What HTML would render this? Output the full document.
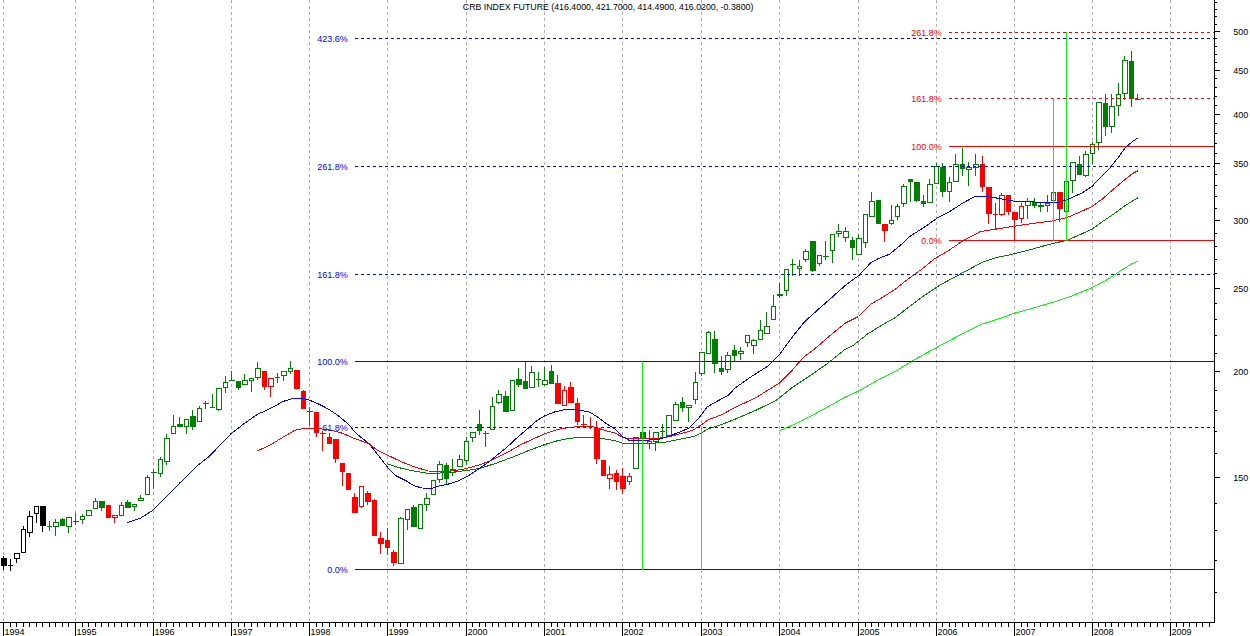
<!DOCTYPE html>
<html><head><meta charset="utf-8"><title>CRB INDEX FUTURE</title>
<style>html,body{margin:0;padding:0;background:#fff}svg{display:block}text{font-family:"Liberation Sans",Arial,sans-serif;font-size:9px}</style></head><body>
<svg width="1250" height="636" viewBox="0 0 1250 636">
<rect width="1250" height="636" fill="#fff"/>
<g shape-rendering="crispEdges" stroke="#b0b0b0" stroke-width="1" stroke-dasharray="3 3">
<line x1="3.5" y1="0" x2="3.5" y2="622"/>
<line x1="75.5" y1="0" x2="75.5" y2="622"/>
<line x1="153.5" y1="0" x2="153.5" y2="622"/>
<line x1="231.5" y1="0" x2="231.5" y2="622"/>
<line x1="309.5" y1="0" x2="309.5" y2="622"/>
<line x1="387.5" y1="0" x2="387.5" y2="622"/>
<line x1="466.5" y1="0" x2="466.5" y2="622"/>
<line x1="544.5" y1="0" x2="544.5" y2="622"/>
<line x1="622.5" y1="0" x2="622.5" y2="622"/>
<line x1="701.5" y1="0" x2="701.5" y2="622"/>
<line x1="779.5" y1="0" x2="779.5" y2="622"/>
<line x1="858.5" y1="0" x2="858.5" y2="622"/>
<line x1="936.5" y1="0" x2="936.5" y2="622"/>
<line x1="1014.5" y1="0" x2="1014.5" y2="622"/>
<line x1="1092.5" y1="0" x2="1092.5" y2="622"/>
<line x1="1170.5" y1="0" x2="1170.5" y2="622"/>
</g>
<g shape-rendering="crispEdges">
<rect x="3" y="556" width="1" height="14" fill="#000000"/>
<rect x="1" y="558" width="6" height="8" fill="#000000"/>
<rect x="10" y="559" width="1" height="12" fill="#000000"/>
<rect x="8" y="565" width="5" height="1" fill="#000000"/>
<rect x="16" y="553" width="1" height="10" fill="#000000"/>
<rect x="14.5" y="553.5" width="5" height="5" fill="#fff" stroke="#000000" stroke-width="1"/>
<rect x="23" y="526" width="1" height="27" fill="#000000"/>
<rect x="21.5" y="529.5" width="4" height="23" fill="#fff" stroke="#000000" stroke-width="1"/>
<rect x="29" y="511" width="1" height="26" fill="#000000"/>
<rect x="27.5" y="516.5" width="5" height="16" fill="#fff" stroke="#000000" stroke-width="1"/>
<rect x="36" y="506" width="1" height="17" fill="#000000"/>
<rect x="34.5" y="506.5" width="4" height="7" fill="#fff" stroke="#000000" stroke-width="1"/>
<rect x="42" y="506" width="1" height="26" fill="#000000"/>
<rect x="40" y="506" width="6" height="20" fill="#000000"/>
<rect x="49" y="521" width="1" height="10" fill="#008000"/>
<rect x="47" y="526" width="5" height="1" fill="#008000"/>
<rect x="55" y="519" width="1" height="17" fill="#008000"/>
<rect x="53.5" y="522.5" width="5" height="4" fill="#fff" stroke="#008000" stroke-width="1"/>
<rect x="62" y="518" width="1" height="8" fill="#008000"/>
<rect x="60" y="519" width="5" height="7" fill="#008000"/>
<rect x="68" y="517" width="1" height="16" fill="#008000"/>
<rect x="66.5" y="517.5" width="5" height="9" fill="#fff" stroke="#008000" stroke-width="1"/>
<rect x="75" y="513" width="1" height="12" fill="#008000"/>
<rect x="73" y="521" width="6" height="1" fill="#008000"/>
<rect x="82" y="514" width="1" height="10" fill="#008000"/>
<rect x="80.5" y="516.5" width="4" height="3" fill="#fff" stroke="#008000" stroke-width="1"/>
<rect x="88" y="510" width="1" height="6" fill="#008000"/>
<rect x="86.5" y="510.5" width="5" height="5" fill="#fff" stroke="#008000" stroke-width="1"/>
<rect x="95" y="498" width="1" height="11" fill="#008000"/>
<rect x="93.5" y="501.5" width="4" height="7" fill="#fff" stroke="#008000" stroke-width="1"/>
<rect x="101" y="501" width="1" height="10" fill="#008000"/>
<rect x="99" y="501" width="6" height="7" fill="#008000"/>
<rect x="108" y="505" width="1" height="13" fill="#ff0000"/>
<rect x="106" y="505" width="5" height="13" fill="#ff0000"/>
<rect x="114" y="515" width="1" height="8" fill="#ff0000"/>
<rect x="112.5" y="515.5" width="5" height="2" fill="#fff" stroke="#ff0000" stroke-width="1"/>
<rect x="121" y="502" width="1" height="14" fill="#008000"/>
<rect x="119.5" y="505.5" width="4" height="10" fill="#fff" stroke="#008000" stroke-width="1"/>
<rect x="127" y="500" width="1" height="8" fill="#008000"/>
<rect x="125" y="502" width="6" height="6" fill="#008000"/>
<rect x="134" y="504" width="1" height="7" fill="#008000"/>
<rect x="132.5" y="504.5" width="4" height="2" fill="#fff" stroke="#008000" stroke-width="1"/>
<rect x="140" y="495" width="1" height="6" fill="#008000"/>
<rect x="138.5" y="498.5" width="5" height="2" fill="#fff" stroke="#008000" stroke-width="1"/>
<rect x="147" y="475" width="1" height="20" fill="#008000"/>
<rect x="145.5" y="477.5" width="4" height="17" fill="#fff" stroke="#008000" stroke-width="1"/>
<rect x="153" y="469" width="1" height="20" fill="#008000"/>
<rect x="151" y="472" width="6" height="1" fill="#008000"/>
<rect x="160" y="457" width="1" height="20" fill="#008000"/>
<rect x="158.5" y="459.5" width="4" height="14" fill="#fff" stroke="#008000" stroke-width="1"/>
<rect x="166" y="434" width="1" height="31" fill="#008000"/>
<rect x="164.5" y="438.5" width="5" height="23" fill="#fff" stroke="#008000" stroke-width="1"/>
<rect x="173" y="415" width="1" height="19" fill="#008000"/>
<rect x="171.5" y="426.5" width="4" height="7" fill="#fff" stroke="#008000" stroke-width="1"/>
<rect x="179" y="417" width="1" height="10" fill="#008000"/>
<rect x="177" y="424" width="6" height="3" fill="#008000"/>
<rect x="186" y="419" width="1" height="15" fill="#008000"/>
<rect x="184.5" y="419.5" width="4" height="7" fill="#fff" stroke="#008000" stroke-width="1"/>
<rect x="192" y="410" width="1" height="20" fill="#008000"/>
<rect x="190" y="416" width="6" height="11" fill="#008000"/>
<rect x="199" y="406" width="1" height="16" fill="#008000"/>
<rect x="197.5" y="408.5" width="4" height="13" fill="#fff" stroke="#008000" stroke-width="1"/>
<rect x="205" y="401" width="1" height="8" fill="#008000"/>
<rect x="203" y="403" width="6" height="1" fill="#008000"/>
<rect x="212" y="394" width="1" height="14" fill="#008000"/>
<rect x="210" y="407" width="5" height="1" fill="#008000"/>
<rect x="218" y="388" width="1" height="23" fill="#008000"/>
<rect x="216.5" y="388.5" width="5" height="21" fill="#fff" stroke="#008000" stroke-width="1"/>
<rect x="225" y="376" width="1" height="17" fill="#008000"/>
<rect x="223.5" y="382.5" width="4" height="5" fill="#fff" stroke="#008000" stroke-width="1"/>
<rect x="231" y="371" width="1" height="10" fill="#008000"/>
<rect x="229" y="380" width="6" height="1" fill="#008000"/>
<rect x="238" y="381" width="1" height="9" fill="#008000"/>
<rect x="236" y="381" width="5" height="7" fill="#008000"/>
<rect x="244" y="374" width="1" height="11" fill="#008000"/>
<rect x="242.5" y="380.5" width="5" height="4" fill="#fff" stroke="#008000" stroke-width="1"/>
<rect x="251" y="378" width="1" height="14" fill="#008000"/>
<rect x="249.5" y="378.5" width="4" height="2" fill="#fff" stroke="#008000" stroke-width="1"/>
<rect x="257" y="362" width="1" height="18" fill="#008000"/>
<rect x="255.5" y="368.5" width="5" height="9" fill="#fff" stroke="#008000" stroke-width="1"/>
<rect x="264" y="371" width="1" height="19" fill="#ff0000"/>
<rect x="262" y="371" width="5" height="16" fill="#ff0000"/>
<rect x="270" y="378" width="1" height="19" fill="#ff0000"/>
<rect x="268.5" y="378.5" width="5" height="8" fill="#fff" stroke="#ff0000" stroke-width="1"/>
<rect x="277" y="373" width="1" height="10" fill="#ff0000"/>
<rect x="275" y="377" width="5" height="1" fill="#ff0000"/>
<rect x="283" y="371" width="1" height="10" fill="#008000"/>
<rect x="281.5" y="371.5" width="5" height="4" fill="#fff" stroke="#008000" stroke-width="1"/>
<rect x="290" y="361" width="1" height="13" fill="#008000"/>
<rect x="288.5" y="368.5" width="4" height="3" fill="#fff" stroke="#008000" stroke-width="1"/>
<rect x="296" y="370" width="1" height="19" fill="#ff0000"/>
<rect x="294" y="370" width="6" height="19" fill="#ff0000"/>
<rect x="303" y="390" width="1" height="19" fill="#ff0000"/>
<rect x="301" y="391" width="5" height="18" fill="#ff0000"/>
<rect x="309" y="407" width="1" height="19" fill="#ff0000"/>
<rect x="307" y="411" width="6" height="1" fill="#ff0000"/>
<rect x="316" y="412" width="1" height="25" fill="#ff0000"/>
<rect x="314" y="412" width="5" height="21" fill="#ff0000"/>
<rect x="322" y="431" width="1" height="20" fill="#ff0000"/>
<rect x="320" y="433" width="6" height="1" fill="#ff0000"/>
<rect x="329" y="433" width="1" height="11" fill="#ff0000"/>
<rect x="327" y="437" width="5" height="7" fill="#ff0000"/>
<rect x="335" y="439" width="1" height="24" fill="#ff0000"/>
<rect x="333" y="439" width="6" height="20" fill="#ff0000"/>
<rect x="342" y="463" width="1" height="23" fill="#ff0000"/>
<rect x="340" y="463" width="5" height="9" fill="#ff0000"/>
<rect x="348" y="473" width="1" height="17" fill="#ff0000"/>
<rect x="346" y="473" width="5" height="17" fill="#ff0000"/>
<rect x="354" y="493" width="1" height="20" fill="#ff0000"/>
<rect x="352" y="497" width="6" height="16" fill="#ff0000"/>
<rect x="361" y="486" width="1" height="22" fill="#ff0000"/>
<rect x="359.5" y="486.5" width="4" height="20" fill="#fff" stroke="#ff0000" stroke-width="1"/>
<rect x="367" y="491" width="1" height="14" fill="#ff0000"/>
<rect x="365" y="493" width="6" height="9" fill="#ff0000"/>
<rect x="374" y="499" width="1" height="37" fill="#ff0000"/>
<rect x="372" y="500" width="5" height="36" fill="#ff0000"/>
<rect x="380" y="532" width="1" height="22" fill="#ff0000"/>
<rect x="378" y="538" width="6" height="6" fill="#ff0000"/>
<rect x="387" y="528" width="1" height="27" fill="#ff0000"/>
<rect x="385" y="540" width="5" height="8" fill="#ff0000"/>
<rect x="393" y="550" width="1" height="16" fill="#ff0000"/>
<rect x="391" y="552" width="6" height="11" fill="#ff0000"/>
<rect x="400" y="517" width="1" height="47" fill="#008000"/>
<rect x="398.5" y="518.5" width="5" height="45" fill="#fff" stroke="#008000" stroke-width="1"/>
<rect x="407" y="509" width="1" height="21" fill="#008000"/>
<rect x="405.5" y="509.5" width="4" height="10" fill="#fff" stroke="#008000" stroke-width="1"/>
<rect x="413" y="505" width="1" height="22" fill="#008000"/>
<rect x="411" y="507" width="6" height="20" fill="#008000"/>
<rect x="420" y="504" width="1" height="25" fill="#008000"/>
<rect x="418.5" y="504.5" width="4" height="24" fill="#fff" stroke="#008000" stroke-width="1"/>
<rect x="426" y="493" width="1" height="18" fill="#008000"/>
<rect x="424.5" y="498.5" width="5" height="6" fill="#fff" stroke="#008000" stroke-width="1"/>
<rect x="433" y="480" width="1" height="15" fill="#008000"/>
<rect x="431.5" y="480.5" width="4" height="14" fill="#fff" stroke="#008000" stroke-width="1"/>
<rect x="439" y="461" width="1" height="22" fill="#008000"/>
<rect x="437.5" y="464.5" width="5" height="15" fill="#fff" stroke="#008000" stroke-width="1"/>
<rect x="446" y="463" width="1" height="22" fill="#008000"/>
<rect x="444" y="465" width="5" height="14" fill="#008000"/>
<rect x="452" y="459" width="1" height="17" fill="#008000"/>
<rect x="450.5" y="469.5" width="5" height="3" fill="#fff" stroke="#008000" stroke-width="1"/>
<rect x="459" y="455" width="1" height="12" fill="#008000"/>
<rect x="457.5" y="459.5" width="5" height="7" fill="#fff" stroke="#008000" stroke-width="1"/>
<rect x="466" y="437" width="1" height="28" fill="#008000"/>
<rect x="464.5" y="441.5" width="4" height="19" fill="#fff" stroke="#008000" stroke-width="1"/>
<rect x="472" y="432" width="1" height="10" fill="#008000"/>
<rect x="470.5" y="432.5" width="5" height="5" fill="#fff" stroke="#008000" stroke-width="1"/>
<rect x="479" y="410" width="1" height="25" fill="#008000"/>
<rect x="477" y="424" width="5" height="7" fill="#008000"/>
<rect x="485" y="431" width="1" height="16" fill="#008000"/>
<rect x="483" y="433" width="6" height="1" fill="#008000"/>
<rect x="492" y="397" width="1" height="33" fill="#008000"/>
<rect x="490.5" y="406.5" width="4" height="23" fill="#fff" stroke="#008000" stroke-width="1"/>
<rect x="498" y="390" width="1" height="14" fill="#008000"/>
<rect x="496.5" y="394.5" width="5" height="8" fill="#fff" stroke="#008000" stroke-width="1"/>
<rect x="505" y="391" width="1" height="21" fill="#008000"/>
<rect x="503" y="396" width="6" height="16" fill="#008000"/>
<rect x="512" y="380" width="1" height="31" fill="#008000"/>
<rect x="510.5" y="380.5" width="4" height="30" fill="#fff" stroke="#008000" stroke-width="1"/>
<rect x="518" y="368" width="1" height="19" fill="#008000"/>
<rect x="516" y="379" width="6" height="6" fill="#008000"/>
<rect x="525" y="362" width="1" height="27" fill="#008000"/>
<rect x="523" y="381" width="5" height="8" fill="#008000"/>
<rect x="531" y="366" width="1" height="22" fill="#008000"/>
<rect x="529.5" y="372.5" width="5" height="15" fill="#fff" stroke="#008000" stroke-width="1"/>
<rect x="538" y="372" width="1" height="15" fill="#008000"/>
<rect x="536" y="379" width="5" height="1" fill="#008000"/>
<rect x="544" y="367" width="1" height="19" fill="#008000"/>
<rect x="542.5" y="380.5" width="5" height="4" fill="#fff" stroke="#008000" stroke-width="1"/>
<rect x="551" y="365" width="1" height="19" fill="#008000"/>
<rect x="549" y="371" width="5" height="13" fill="#008000"/>
<rect x="557" y="375" width="1" height="29" fill="#ff0000"/>
<rect x="555" y="383" width="6" height="21" fill="#ff0000"/>
<rect x="564" y="386" width="1" height="20" fill="#ff0000"/>
<rect x="562.5" y="390.5" width="4" height="15" fill="#fff" stroke="#ff0000" stroke-width="1"/>
<rect x="570" y="382" width="1" height="21" fill="#ff0000"/>
<rect x="568" y="387" width="6" height="16" fill="#ff0000"/>
<rect x="577" y="398" width="1" height="27" fill="#ff0000"/>
<rect x="575" y="403" width="5" height="19" fill="#ff0000"/>
<rect x="583" y="415" width="1" height="11" fill="#ff0000"/>
<rect x="581" y="424" width="6" height="1" fill="#ff0000"/>
<rect x="590" y="417" width="1" height="12" fill="#ff0000"/>
<rect x="588" y="426" width="5" height="1" fill="#ff0000"/>
<rect x="596" y="421" width="1" height="43" fill="#ff0000"/>
<rect x="594" y="428" width="6" height="31" fill="#ff0000"/>
<rect x="603" y="460" width="1" height="16" fill="#ff0000"/>
<rect x="601" y="460" width="5" height="16" fill="#ff0000"/>
<rect x="609" y="466" width="1" height="23" fill="#ff0000"/>
<rect x="607.5" y="474.5" width="5" height="4" fill="#fff" stroke="#ff0000" stroke-width="1"/>
<rect x="616" y="470" width="1" height="20" fill="#ff0000"/>
<rect x="614" y="473" width="5" height="9" fill="#ff0000"/>
<rect x="622" y="468" width="1" height="26" fill="#ff0000"/>
<rect x="620" y="476" width="6" height="13" fill="#ff0000"/>
<rect x="629" y="473" width="1" height="12" fill="#ff0000"/>
<rect x="627.5" y="476.5" width="4" height="5" fill="#fff" stroke="#ff0000" stroke-width="1"/>
<rect x="635" y="437" width="1" height="32" fill="#008000"/>
<rect x="633.5" y="437.5" width="5" height="31" fill="#fff" stroke="#008000" stroke-width="1"/>
<rect x="642" y="432" width="1" height="6" fill="#008000"/>
<rect x="640" y="432" width="6" height="6" fill="#008000"/>
<rect x="649" y="430" width="1" height="19" fill="#008000"/>
<rect x="647.5" y="441.5" width="4" height="2" fill="#fff" stroke="#008000" stroke-width="1"/>
<rect x="655" y="432" width="1" height="19" fill="#008000"/>
<rect x="653.5" y="432.5" width="5" height="9" fill="#fff" stroke="#008000" stroke-width="1"/>
<rect x="662" y="424" width="1" height="13" fill="#008000"/>
<rect x="660" y="431" width="5" height="1" fill="#008000"/>
<rect x="668" y="415" width="1" height="21" fill="#008000"/>
<rect x="666.5" y="415.5" width="5" height="20" fill="#fff" stroke="#008000" stroke-width="1"/>
<rect x="675" y="402" width="1" height="19" fill="#008000"/>
<rect x="673.5" y="404.5" width="5" height="16" fill="#fff" stroke="#008000" stroke-width="1"/>
<rect x="682" y="397" width="1" height="15" fill="#008000"/>
<rect x="680" y="402" width="5" height="6" fill="#008000"/>
<rect x="688" y="405" width="1" height="17" fill="#008000"/>
<rect x="686.5" y="405.5" width="5" height="2" fill="#fff" stroke="#008000" stroke-width="1"/>
<rect x="695" y="372" width="1" height="32" fill="#008000"/>
<rect x="693.5" y="382.5" width="4" height="17" fill="#fff" stroke="#008000" stroke-width="1"/>
<rect x="701" y="352" width="1" height="24" fill="#008000"/>
<rect x="699.5" y="352.5" width="5" height="21" fill="#fff" stroke="#008000" stroke-width="1"/>
<rect x="708" y="331" width="1" height="23" fill="#008000"/>
<rect x="706.5" y="332.5" width="4" height="21" fill="#fff" stroke="#008000" stroke-width="1"/>
<rect x="714" y="331" width="1" height="42" fill="#008000"/>
<rect x="712" y="339" width="6" height="25" fill="#008000"/>
<rect x="721" y="356" width="1" height="19" fill="#008000"/>
<rect x="719" y="368" width="5" height="4" fill="#008000"/>
<rect x="727" y="352" width="1" height="21" fill="#008000"/>
<rect x="725.5" y="355.5" width="5" height="14" fill="#fff" stroke="#008000" stroke-width="1"/>
<rect x="734" y="345" width="1" height="16" fill="#008000"/>
<rect x="732" y="350" width="5" height="6" fill="#008000"/>
<rect x="740" y="347" width="1" height="13" fill="#008000"/>
<rect x="738.5" y="351.5" width="5" height="2" fill="#fff" stroke="#008000" stroke-width="1"/>
<rect x="747" y="335" width="1" height="12" fill="#008000"/>
<rect x="745.5" y="335.5" width="4" height="7" fill="#fff" stroke="#008000" stroke-width="1"/>
<rect x="753" y="339" width="1" height="15" fill="#008000"/>
<rect x="751.5" y="340.5" width="5" height="5" fill="#fff" stroke="#008000" stroke-width="1"/>
<rect x="760" y="320" width="1" height="20" fill="#008000"/>
<rect x="758.5" y="330.5" width="4" height="9" fill="#fff" stroke="#008000" stroke-width="1"/>
<rect x="766" y="312" width="1" height="22" fill="#008000"/>
<rect x="764.5" y="326.5" width="5" height="7" fill="#fff" stroke="#008000" stroke-width="1"/>
<rect x="773" y="295" width="1" height="25" fill="#008000"/>
<rect x="771.5" y="306.5" width="4" height="13" fill="#fff" stroke="#008000" stroke-width="1"/>
<rect x="779" y="283" width="1" height="15" fill="#008000"/>
<rect x="777" y="294" width="6" height="2" fill="#008000"/>
<rect x="786" y="269" width="1" height="27" fill="#008000"/>
<rect x="784.5" y="269.5" width="4" height="21" fill="#fff" stroke="#008000" stroke-width="1"/>
<rect x="792" y="259" width="1" height="17" fill="#008000"/>
<rect x="790" y="264" width="6" height="1" fill="#008000"/>
<rect x="799" y="260" width="1" height="16" fill="#008000"/>
<rect x="797.5" y="266.5" width="4" height="2" fill="#fff" stroke="#008000" stroke-width="1"/>
<rect x="805" y="249" width="1" height="13" fill="#008000"/>
<rect x="803.5" y="251.5" width="5" height="8" fill="#fff" stroke="#008000" stroke-width="1"/>
<rect x="812" y="241" width="1" height="31" fill="#008000"/>
<rect x="810" y="241" width="6" height="30" fill="#008000"/>
<rect x="819" y="255" width="1" height="11" fill="#008000"/>
<rect x="817.5" y="255.5" width="4" height="8" fill="#fff" stroke="#008000" stroke-width="1"/>
<rect x="825" y="241" width="1" height="19" fill="#008000"/>
<rect x="823" y="256" width="6" height="1" fill="#008000"/>
<rect x="832" y="234" width="1" height="29" fill="#008000"/>
<rect x="830.5" y="234.5" width="4" height="16" fill="#fff" stroke="#008000" stroke-width="1"/>
<rect x="838" y="224" width="1" height="13" fill="#008000"/>
<rect x="836.5" y="231.5" width="5" height="2" fill="#fff" stroke="#008000" stroke-width="1"/>
<rect x="845" y="227" width="1" height="15" fill="#008000"/>
<rect x="843.5" y="231.5" width="5" height="6" fill="#fff" stroke="#008000" stroke-width="1"/>
<rect x="852" y="237" width="1" height="23" fill="#008000"/>
<rect x="850" y="240" width="5" height="8" fill="#008000"/>
<rect x="858" y="234" width="1" height="21" fill="#008000"/>
<rect x="856.5" y="238.5" width="5" height="16" fill="#fff" stroke="#008000" stroke-width="1"/>
<rect x="865" y="214" width="1" height="34" fill="#008000"/>
<rect x="863.5" y="214.5" width="4" height="28" fill="#fff" stroke="#008000" stroke-width="1"/>
<rect x="871" y="192" width="1" height="25" fill="#008000"/>
<rect x="869.5" y="201.5" width="5" height="15" fill="#fff" stroke="#008000" stroke-width="1"/>
<rect x="878" y="200" width="1" height="24" fill="#008000"/>
<rect x="876" y="200" width="5" height="24" fill="#008000"/>
<rect x="884" y="224" width="1" height="18" fill="#ff0000"/>
<rect x="882" y="224" width="6" height="7" fill="#ff0000"/>
<rect x="891" y="205" width="1" height="20" fill="#008000"/>
<rect x="889.5" y="220.5" width="4" height="3" fill="#fff" stroke="#008000" stroke-width="1"/>
<rect x="897" y="204" width="1" height="16" fill="#008000"/>
<rect x="895.5" y="206.5" width="4" height="10" fill="#fff" stroke="#008000" stroke-width="1"/>
<rect x="903" y="184" width="1" height="23" fill="#008000"/>
<rect x="901.5" y="186.5" width="5" height="17" fill="#fff" stroke="#008000" stroke-width="1"/>
<rect x="910" y="179" width="1" height="23" fill="#008000"/>
<rect x="908" y="179" width="5" height="3" fill="#008000"/>
<rect x="916" y="182" width="1" height="20" fill="#008000"/>
<rect x="914" y="182" width="6" height="19" fill="#008000"/>
<rect x="923" y="195" width="1" height="12" fill="#008000"/>
<rect x="921" y="201" width="5" height="3" fill="#008000"/>
<rect x="929" y="179" width="1" height="24" fill="#008000"/>
<rect x="927.5" y="184.5" width="5" height="18" fill="#fff" stroke="#008000" stroke-width="1"/>
<rect x="936" y="163" width="1" height="21" fill="#008000"/>
<rect x="934.5" y="166.5" width="4" height="17" fill="#fff" stroke="#008000" stroke-width="1"/>
<rect x="942" y="163" width="1" height="34" fill="#008000"/>
<rect x="940" y="167" width="6" height="25" fill="#008000"/>
<rect x="949" y="177" width="1" height="25" fill="#008000"/>
<rect x="947.5" y="182.5" width="4" height="9" fill="#fff" stroke="#008000" stroke-width="1"/>
<rect x="955" y="154" width="1" height="28" fill="#008000"/>
<rect x="953.5" y="164.5" width="5" height="17" fill="#fff" stroke="#008000" stroke-width="1"/>
<rect x="962" y="148" width="1" height="28" fill="#008000"/>
<rect x="960" y="164" width="5" height="5" fill="#008000"/>
<rect x="968" y="162" width="1" height="24" fill="#008000"/>
<rect x="966.5" y="167.5" width="5" height="2" fill="#fff" stroke="#008000" stroke-width="1"/>
<rect x="975" y="154" width="1" height="22" fill="#008000"/>
<rect x="973.5" y="164.5" width="5" height="3" fill="#fff" stroke="#008000" stroke-width="1"/>
<rect x="982" y="156" width="1" height="36" fill="#ff0000"/>
<rect x="980" y="164" width="5" height="23" fill="#ff0000"/>
<rect x="988" y="187" width="1" height="37" fill="#ff0000"/>
<rect x="986" y="187" width="6" height="27" fill="#ff0000"/>
<rect x="995" y="203" width="1" height="27" fill="#ff0000"/>
<rect x="993" y="214" width="5" height="1" fill="#ff0000"/>
<rect x="1001" y="193" width="1" height="23" fill="#ff0000"/>
<rect x="999.5" y="195.5" width="5" height="19" fill="#fff" stroke="#ff0000" stroke-width="1"/>
<rect x="1008" y="195" width="1" height="20" fill="#ff0000"/>
<rect x="1006" y="195" width="5" height="17" fill="#ff0000"/>
<rect x="1014" y="212" width="1" height="28" fill="#ff0000"/>
<rect x="1012" y="212" width="6" height="8" fill="#ff0000"/>
<rect x="1021" y="203" width="1" height="20" fill="#ff0000"/>
<rect x="1019.5" y="206.5" width="4" height="12" fill="#fff" stroke="#ff0000" stroke-width="1"/>
<rect x="1027" y="198" width="1" height="21" fill="#008000"/>
<rect x="1025.5" y="201.5" width="5" height="4" fill="#fff" stroke="#008000" stroke-width="1"/>
<rect x="1034" y="198" width="1" height="10" fill="#008000"/>
<rect x="1032" y="202" width="5" height="4" fill="#008000"/>
<rect x="1040" y="202" width="1" height="10" fill="#008000"/>
<rect x="1038" y="205" width="6" height="2" fill="#008000"/>
<rect x="1047" y="195" width="1" height="17" fill="#008000"/>
<rect x="1045.5" y="203.5" width="4" height="2" fill="#fff" stroke="#008000" stroke-width="1"/>
<rect x="1053" y="192" width="1" height="9" fill="#008000"/>
<rect x="1051.5" y="192.5" width="4" height="8" fill="#fff" stroke="#008000" stroke-width="1"/>
<rect x="1059" y="192" width="1" height="30" fill="#ff0000"/>
<rect x="1057" y="192" width="6" height="17" fill="#ff0000"/>
<rect x="1066" y="181" width="1" height="31" fill="#008000"/>
<rect x="1064.5" y="181.5" width="4" height="30" fill="#fff" stroke="#008000" stroke-width="1"/>
<rect x="1072" y="162" width="1" height="31" fill="#008000"/>
<rect x="1070.5" y="162.5" width="5" height="18" fill="#fff" stroke="#008000" stroke-width="1"/>
<rect x="1079" y="156" width="1" height="19" fill="#008000"/>
<rect x="1077" y="164" width="5" height="11" fill="#008000"/>
<rect x="1085" y="151" width="1" height="26" fill="#008000"/>
<rect x="1083.5" y="154.5" width="5" height="21" fill="#fff" stroke="#008000" stroke-width="1"/>
<rect x="1092" y="142" width="1" height="22" fill="#008000"/>
<rect x="1090.5" y="144.5" width="4" height="9" fill="#fff" stroke="#008000" stroke-width="1"/>
<rect x="1098" y="102" width="1" height="48" fill="#008000"/>
<rect x="1096.5" y="102.5" width="5" height="40" fill="#fff" stroke="#008000" stroke-width="1"/>
<rect x="1105" y="94" width="1" height="42" fill="#008000"/>
<rect x="1103" y="103" width="5" height="24" fill="#008000"/>
<rect x="1111" y="94" width="1" height="39" fill="#008000"/>
<rect x="1109.5" y="106.5" width="5" height="20" fill="#fff" stroke="#008000" stroke-width="1"/>
<rect x="1118" y="83" width="1" height="33" fill="#008000"/>
<rect x="1116.5" y="94.5" width="4" height="11" fill="#fff" stroke="#008000" stroke-width="1"/>
<rect x="1124" y="56" width="1" height="44" fill="#008000"/>
<rect x="1122.5" y="60.5" width="5" height="33" fill="#fff" stroke="#008000" stroke-width="1"/>
<rect x="1131" y="51" width="1" height="56" fill="#008000"/>
<rect x="1129" y="61" width="5" height="38" fill="#008000"/>
<rect x="1137" y="94" width="1" height="6" fill="#008000"/>
<rect x="1135" y="99" width="6" height="1" fill="#008000"/>
</g>
<polyline shape-rendering="crispEdges" fill="none" stroke="#00ff00" stroke-width="1" stroke-linejoin="round" points="779.3,430.9 795.1,424.0 810.8,416.1 826.5,407.6 845.0,397.2 858.7,391.0 877.4,380.4 896.1,371.0 913.5,360.3 936.2,347.7 960.3,334.9 981.7,324.2 1000.4,318.3 1013.8,313.5 1032.5,308.2 1053.9,302.0 1069.9,296.7 1091.3,288.1 1107.3,279.6 1120.7,270.7 1131.4,264.1 1137.5,261.4"/>
<polyline shape-rendering="crispEdges" fill="none" stroke="#008000" stroke-width="1" stroke-linejoin="round" points="387.4,463.8 401.7,468.4 414.0,471.0 426.3,473.1 438.5,473.1 452.8,472.1 467.1,470.4 480.0,468.4 495.9,463.3 512.2,457.2 528.6,450.6 544.9,444.5 557.2,440.8 569.4,438.4 581.7,437.1 593.9,437.1 604.2,438.8 615.0,440.8 623.3,443.3 642.2,443.3 661.0,442.9 673.6,440.6 684.6,438.2 694.8,436.2 701.9,432.7 708.2,428.8 720.7,424.9 736.5,418.6 755.0,410.7 776.2,400.4 791.9,387.8 810.8,375.2 826.5,364.2 845.0,349.4 853.8,345.0 867.0,334.4 882.1,325.0 895.3,317.5 910.0,306.1 925.0,295.0 940.0,285.0 955.0,277.0 967.9,270.0 982.1,262.3 995.3,257.9 1010.0,254.7 1029.0,250.0 1051.6,243.8 1066.7,240.4 1079.9,234.7 1092.2,229.1 1102.5,221.5 1113.9,214.0 1125.2,205.5 1137.8,197.9"/>
<polyline shape-rendering="crispEdges" fill="none" stroke="#ff0000" stroke-width="1" stroke-linejoin="round" points="257.0,451.1 270.3,444.9 283.0,437.2 295.2,430.1 305.4,428.3 315.6,428.3 328.9,429.7 342.2,433.2 355.5,438.9 368.8,443.6 377.2,450.0 387.4,455.1 401.7,461.9 416.0,467.4 428.3,471.0 438.5,471.5 450.8,471.0 463.0,469.4 480.0,464.7 491.8,460.2 506.1,453.1 520.4,444.9 532.6,439.2 544.9,433.7 557.2,429.6 569.4,427.3 581.7,426.5 593.9,426.9 604.2,430.2 615.0,433.1 622.5,437.1 628.0,438.5 642.2,438.5 657.9,438.4 668.9,436.7 681.4,433.5 692.4,430.4 700.3,425.6 708.2,419.8 720.7,415.1 736.5,406.8 756.1,397.5 779.3,383.1 791.9,370.5 802.9,357.9 817.1,346.9 829.7,335.9 845.0,323.3 858.5,316.5 870.8,304.2 882.1,297.6 895.3,289.2 910.0,277.5 920.8,270.0 934.9,258.5 948.1,250.9 963.2,240.6 980.2,231.7 995.3,229.2 1012.0,226.6 1032.7,223.4 1051.6,221.1 1066.7,217.7 1079.9,212.1 1092.2,206.4 1102.5,198.9 1112.0,190.4 1123.3,180.9 1132.7,173.4 1137.8,170.9"/>
<polyline shape-rendering="crispEdges" fill="none" stroke="#0000ff" stroke-width="1" stroke-linejoin="round" points="127.3,522.4 140.0,518.5 153.3,510.0 165.5,497.8 179.6,483.1 198.6,464.7 209.4,456.2 231.2,433.5 244.8,423.1 257.5,414.3 270.3,408.6 283.0,401.5 293.2,398.2 302.4,398.4 309.5,400.1 318.7,404.1 328.9,409.3 339.1,416.4 348.3,424.0 355.5,432.8 368.8,443.6 374.1,450.0 381.3,459.2 388.4,468.4 395.6,475.5 405.8,480.6 414.0,485.8 422.2,488.0 431.4,488.4 439.5,485.8 447.7,484.3 458.9,480.6 467.1,476.6 480.0,468.0 485.6,464.3 495.9,456.1 506.1,448.0 516.3,438.4 526.5,429.6 536.7,420.8 544.9,415.7 555.1,411.8 565.3,409.6 574.5,409.4 581.7,410.6 589.9,412.2 598.0,417.3 606.2,423.5 615.0,429.0 622.5,436.7 628.8,440.1 642.2,440.4 657.9,439.5 668.9,436.2 679.9,431.9 689.3,428.0 697.2,420.1 707.4,406.8 717.6,401.0 728.6,395.0 735.3,387.8 751.0,376.8 768.3,365.8 779.3,354.8 791.9,337.5 804.5,321.8 820.2,307.6 832.8,296.6 845.0,285.6 859.4,275.0 870.8,262.7 878.3,258.6 889.6,254.2 900.9,244.8 910.0,236.3 925.5,226.4 936.8,218.3 950.0,211.3 963.2,202.8 975.5,196.2 987.7,196.6 1000.9,198.7 1011.0,200.9 1023.3,201.7 1038.4,202.1 1051.6,202.1 1060.1,202.1 1066.7,199.8 1074.2,196.4 1081.8,193.2 1092.2,186.2 1099.7,178.1 1110.1,167.7 1117.6,158.3 1125.2,147.9 1132.7,141.3 1137.8,138.1"/>
<g shape-rendering="crispEdges" stroke-width="1">
<line x1="355" y1="38.5" x2="1214" y2="38.5" stroke="#0000ff" stroke-dasharray="3 3"/>
<line x1="355" y1="166.5" x2="1214" y2="166.5" stroke="#0000ff" stroke-dasharray="3 3"/>
<line x1="355" y1="274.5" x2="1214" y2="274.5" stroke="#0000ff" stroke-dasharray="3 3"/>
<line x1="355" y1="361.5" x2="1214" y2="361.5" stroke="#0000ff"/>
<line x1="355" y1="427.5" x2="1214" y2="427.5" stroke="#0000ff" stroke-dasharray="3 3"/>
<line x1="355" y1="569.5" x2="1214" y2="569.5" stroke="#0000ff"/>
<line x1="949" y1="32.5" x2="1214" y2="32.5" stroke="#ff0000" stroke-dasharray="3 3"/>
<line x1="949" y1="98.5" x2="1214" y2="98.5" stroke="#ff0000" stroke-dasharray="3 3"/>
<line x1="949" y1="146.5" x2="1214" y2="146.5" stroke="#ff0000"/>
<line x1="949" y1="240.5" x2="1214" y2="240.5" stroke="#ff0000"/>
<line x1="642.5" y1="361" x2="642.5" y2="570" stroke="#00ff00"/>
<line x1="701.5" y1="427" x2="701.5" y2="570" stroke="#00ff00"/>
<line x1="1053.5" y1="98" x2="1053.5" y2="241" stroke="#00ff00"/>
<line x1="1066.5" y1="32" x2="1066.5" y2="241" stroke="#00ff00"/>
</g>
<text x="347.8" y="41.8" text-anchor="end" fill="#0000ff">423.6%</text>
<text x="347.8" y="169.8" text-anchor="end" fill="#0000ff">261.8%</text>
<text x="347.8" y="277.8" text-anchor="end" fill="#0000ff">161.8%</text>
<text x="347.8" y="364.8" text-anchor="end" fill="#0000ff">100.0%</text>
<text x="347.8" y="430.8" text-anchor="end" fill="#0000ff">61.8%</text>
<text x="347.8" y="572.8" text-anchor="end" fill="#0000ff">0.0%</text>
<text x="941.8" y="35.8" text-anchor="end" fill="#ff0000">261.8%</text>
<text x="941.8" y="101.8" text-anchor="end" fill="#ff0000">161.8%</text>
<text x="941.8" y="149.8" text-anchor="end" fill="#ff0000">100.0%</text>
<text x="941.8" y="243.8" text-anchor="end" fill="#ff0000">0.0%</text>
<g shape-rendering="crispEdges" fill="#000">
<rect x="0" y="622" width="1215" height="1"/>
<rect x="1214" y="0" width="1" height="623"/>
<rect x="1215" y="592" width="2" height="1"/>
<rect x="1215" y="560" width="2" height="1"/>
<rect x="1215" y="530" width="2" height="1"/>
<rect x="1215" y="503" width="2" height="1"/>
<rect x="1215" y="477" width="5" height="1"/>
<rect x="1215" y="453" width="2" height="1"/>
<rect x="1215" y="431" width="2" height="1"/>
<rect x="1215" y="410" width="2" height="1"/>
<rect x="1215" y="390" width="2" height="1"/>
<rect x="1215" y="371" width="5" height="1"/>
<rect x="1215" y="353" width="2" height="1"/>
<rect x="1215" y="335" width="2" height="1"/>
<rect x="1215" y="319" width="2" height="1"/>
<rect x="1215" y="303" width="2" height="1"/>
<rect x="1215" y="288" width="5" height="1"/>
<rect x="1215" y="273" width="2" height="1"/>
<rect x="1215" y="259" width="2" height="1"/>
<rect x="1215" y="246" width="2" height="1"/>
<rect x="1215" y="233" width="2" height="1"/>
<rect x="1215" y="220" width="5" height="1"/>
<rect x="1215" y="208" width="2" height="1"/>
<rect x="1215" y="196" width="2" height="1"/>
<rect x="1215" y="185" width="2" height="1"/>
<rect x="1215" y="174" width="2" height="1"/>
<rect x="1215" y="163" width="5" height="1"/>
<rect x="1215" y="153" width="2" height="1"/>
<rect x="1215" y="143" width="2" height="1"/>
<rect x="1215" y="133" width="2" height="1"/>
<rect x="1215" y="123" width="2" height="1"/>
<rect x="1215" y="114" width="5" height="1"/>
<rect x="1215" y="105" width="2" height="1"/>
<rect x="1215" y="96" width="2" height="1"/>
<rect x="1215" y="87" width="2" height="1"/>
<rect x="1215" y="78" width="2" height="1"/>
<rect x="1215" y="70" width="5" height="1"/>
<rect x="1215" y="62" width="2" height="1"/>
<rect x="1215" y="54" width="2" height="1"/>
<rect x="1215" y="46" width="2" height="1"/>
<rect x="1215" y="38" width="2" height="1"/>
<rect x="1215" y="31" width="5" height="1"/>
<rect x="1215" y="24" width="2" height="1"/>
<rect x="1215" y="16" width="2" height="1"/>
<rect x="1215" y="9" width="2" height="1"/>
<rect x="1215" y="2" width="2" height="1"/>
<rect x="3" y="622" width="1" height="14"/>
<rect x="10" y="623" width="1" height="4"/>
<rect x="16" y="623" width="1" height="4"/>
<rect x="23" y="623" width="1" height="4"/>
<rect x="29" y="623" width="1" height="4"/>
<rect x="36" y="623" width="1" height="4"/>
<rect x="42" y="623" width="1" height="4"/>
<rect x="49" y="623" width="1" height="4"/>
<rect x="55" y="623" width="1" height="4"/>
<rect x="62" y="623" width="1" height="4"/>
<rect x="68" y="623" width="1" height="4"/>
<rect x="75" y="622" width="1" height="14"/>
<rect x="82" y="623" width="1" height="4"/>
<rect x="88" y="623" width="1" height="4"/>
<rect x="95" y="623" width="1" height="4"/>
<rect x="101" y="623" width="1" height="4"/>
<rect x="108" y="623" width="1" height="4"/>
<rect x="114" y="623" width="1" height="4"/>
<rect x="121" y="623" width="1" height="4"/>
<rect x="127" y="623" width="1" height="4"/>
<rect x="134" y="623" width="1" height="4"/>
<rect x="140" y="623" width="1" height="4"/>
<rect x="147" y="623" width="1" height="4"/>
<rect x="153" y="622" width="1" height="14"/>
<rect x="160" y="623" width="1" height="4"/>
<rect x="166" y="623" width="1" height="4"/>
<rect x="173" y="623" width="1" height="4"/>
<rect x="179" y="623" width="1" height="4"/>
<rect x="186" y="623" width="1" height="4"/>
<rect x="192" y="623" width="1" height="4"/>
<rect x="199" y="623" width="1" height="4"/>
<rect x="205" y="623" width="1" height="4"/>
<rect x="212" y="623" width="1" height="4"/>
<rect x="218" y="623" width="1" height="4"/>
<rect x="225" y="623" width="1" height="4"/>
<rect x="231" y="622" width="1" height="14"/>
<rect x="238" y="623" width="1" height="4"/>
<rect x="244" y="623" width="1" height="4"/>
<rect x="251" y="623" width="1" height="4"/>
<rect x="257" y="623" width="1" height="4"/>
<rect x="264" y="623" width="1" height="4"/>
<rect x="270" y="623" width="1" height="4"/>
<rect x="277" y="623" width="1" height="4"/>
<rect x="283" y="623" width="1" height="4"/>
<rect x="290" y="623" width="1" height="4"/>
<rect x="296" y="623" width="1" height="4"/>
<rect x="303" y="623" width="1" height="4"/>
<rect x="309" y="622" width="1" height="14"/>
<rect x="316" y="623" width="1" height="4"/>
<rect x="322" y="623" width="1" height="4"/>
<rect x="329" y="623" width="1" height="4"/>
<rect x="335" y="623" width="1" height="4"/>
<rect x="342" y="623" width="1" height="4"/>
<rect x="348" y="623" width="1" height="4"/>
<rect x="354" y="623" width="1" height="4"/>
<rect x="361" y="623" width="1" height="4"/>
<rect x="367" y="623" width="1" height="4"/>
<rect x="374" y="623" width="1" height="4"/>
<rect x="380" y="623" width="1" height="4"/>
<rect x="387" y="622" width="1" height="14"/>
<rect x="393" y="623" width="1" height="4"/>
<rect x="400" y="623" width="1" height="4"/>
<rect x="407" y="623" width="1" height="4"/>
<rect x="413" y="623" width="1" height="4"/>
<rect x="420" y="623" width="1" height="4"/>
<rect x="426" y="623" width="1" height="4"/>
<rect x="433" y="623" width="1" height="4"/>
<rect x="439" y="623" width="1" height="4"/>
<rect x="446" y="623" width="1" height="4"/>
<rect x="452" y="623" width="1" height="4"/>
<rect x="459" y="623" width="1" height="4"/>
<rect x="466" y="622" width="1" height="14"/>
<rect x="472" y="623" width="1" height="4"/>
<rect x="479" y="623" width="1" height="4"/>
<rect x="485" y="623" width="1" height="4"/>
<rect x="492" y="623" width="1" height="4"/>
<rect x="498" y="623" width="1" height="4"/>
<rect x="505" y="623" width="1" height="4"/>
<rect x="512" y="623" width="1" height="4"/>
<rect x="518" y="623" width="1" height="4"/>
<rect x="525" y="623" width="1" height="4"/>
<rect x="531" y="623" width="1" height="4"/>
<rect x="538" y="623" width="1" height="4"/>
<rect x="544" y="622" width="1" height="14"/>
<rect x="551" y="623" width="1" height="4"/>
<rect x="557" y="623" width="1" height="4"/>
<rect x="564" y="623" width="1" height="4"/>
<rect x="570" y="623" width="1" height="4"/>
<rect x="577" y="623" width="1" height="4"/>
<rect x="583" y="623" width="1" height="4"/>
<rect x="590" y="623" width="1" height="4"/>
<rect x="596" y="623" width="1" height="4"/>
<rect x="603" y="623" width="1" height="4"/>
<rect x="609" y="623" width="1" height="4"/>
<rect x="616" y="623" width="1" height="4"/>
<rect x="622" y="622" width="1" height="14"/>
<rect x="629" y="623" width="1" height="4"/>
<rect x="635" y="623" width="1" height="4"/>
<rect x="642" y="623" width="1" height="4"/>
<rect x="649" y="623" width="1" height="4"/>
<rect x="655" y="623" width="1" height="4"/>
<rect x="662" y="623" width="1" height="4"/>
<rect x="668" y="623" width="1" height="4"/>
<rect x="675" y="623" width="1" height="4"/>
<rect x="682" y="623" width="1" height="4"/>
<rect x="688" y="623" width="1" height="4"/>
<rect x="695" y="623" width="1" height="4"/>
<rect x="701" y="622" width="1" height="14"/>
<rect x="708" y="623" width="1" height="4"/>
<rect x="714" y="623" width="1" height="4"/>
<rect x="721" y="623" width="1" height="4"/>
<rect x="727" y="623" width="1" height="4"/>
<rect x="734" y="623" width="1" height="4"/>
<rect x="740" y="623" width="1" height="4"/>
<rect x="747" y="623" width="1" height="4"/>
<rect x="753" y="623" width="1" height="4"/>
<rect x="760" y="623" width="1" height="4"/>
<rect x="766" y="623" width="1" height="4"/>
<rect x="773" y="623" width="1" height="4"/>
<rect x="779" y="622" width="1" height="14"/>
<rect x="786" y="623" width="1" height="4"/>
<rect x="792" y="623" width="1" height="4"/>
<rect x="799" y="623" width="1" height="4"/>
<rect x="805" y="623" width="1" height="4"/>
<rect x="812" y="623" width="1" height="4"/>
<rect x="819" y="623" width="1" height="4"/>
<rect x="825" y="623" width="1" height="4"/>
<rect x="832" y="623" width="1" height="4"/>
<rect x="838" y="623" width="1" height="4"/>
<rect x="845" y="623" width="1" height="4"/>
<rect x="852" y="623" width="1" height="4"/>
<rect x="858" y="622" width="1" height="14"/>
<rect x="865" y="623" width="1" height="4"/>
<rect x="871" y="623" width="1" height="4"/>
<rect x="878" y="623" width="1" height="4"/>
<rect x="884" y="623" width="1" height="4"/>
<rect x="891" y="623" width="1" height="4"/>
<rect x="897" y="623" width="1" height="4"/>
<rect x="903" y="623" width="1" height="4"/>
<rect x="910" y="623" width="1" height="4"/>
<rect x="916" y="623" width="1" height="4"/>
<rect x="923" y="623" width="1" height="4"/>
<rect x="929" y="623" width="1" height="4"/>
<rect x="936" y="622" width="1" height="14"/>
<rect x="942" y="623" width="1" height="4"/>
<rect x="949" y="623" width="1" height="4"/>
<rect x="955" y="623" width="1" height="4"/>
<rect x="962" y="623" width="1" height="4"/>
<rect x="968" y="623" width="1" height="4"/>
<rect x="975" y="623" width="1" height="4"/>
<rect x="982" y="623" width="1" height="4"/>
<rect x="988" y="623" width="1" height="4"/>
<rect x="995" y="623" width="1" height="4"/>
<rect x="1001" y="623" width="1" height="4"/>
<rect x="1008" y="623" width="1" height="4"/>
<rect x="1014" y="622" width="1" height="14"/>
<rect x="1021" y="623" width="1" height="4"/>
<rect x="1027" y="623" width="1" height="4"/>
<rect x="1034" y="623" width="1" height="4"/>
<rect x="1040" y="623" width="1" height="4"/>
<rect x="1047" y="623" width="1" height="4"/>
<rect x="1053" y="623" width="1" height="4"/>
<rect x="1059" y="623" width="1" height="4"/>
<rect x="1066" y="623" width="1" height="4"/>
<rect x="1072" y="623" width="1" height="4"/>
<rect x="1079" y="623" width="1" height="4"/>
<rect x="1085" y="623" width="1" height="4"/>
<rect x="1092" y="622" width="1" height="14"/>
<rect x="1098" y="623" width="1" height="4"/>
<rect x="1105" y="623" width="1" height="4"/>
<rect x="1111" y="623" width="1" height="4"/>
<rect x="1118" y="623" width="1" height="4"/>
<rect x="1124" y="623" width="1" height="4"/>
<rect x="1131" y="623" width="1" height="4"/>
<rect x="1137" y="623" width="1" height="4"/>
<rect x="1144" y="623" width="1" height="4"/>
<rect x="1150" y="623" width="1" height="4"/>
<rect x="1157" y="623" width="1" height="4"/>
<rect x="1163" y="623" width="1" height="4"/>
<rect x="1170" y="622" width="1" height="14"/>
<rect x="1176" y="623" width="1" height="4"/>
<rect x="1183" y="623" width="1" height="4"/>
<rect x="1189" y="623" width="1" height="4"/>
<rect x="1196" y="623" width="1" height="4"/>
<rect x="1202" y="623" width="1" height="4"/>
<rect x="1209" y="623" width="1" height="4"/>
</g>
<text x="1248.2" y="481.2" text-anchor="end" fill="#000">150</text>
<text x="1248.2" y="374.6" text-anchor="end" fill="#000">200</text>
<text x="1248.2" y="291.8" text-anchor="end" fill="#000">250</text>
<text x="1248.2" y="224.3" text-anchor="end" fill="#000">300</text>
<text x="1248.2" y="167.1" text-anchor="end" fill="#000">350</text>
<text x="1248.2" y="117.6" text-anchor="end" fill="#000">400</text>
<text x="1248.2" y="74.0" text-anchor="end" fill="#000">450</text>
<text x="1248.2" y="34.9" text-anchor="end" fill="#000">500</text>
<text x="4.6" y="634.6" fill="#000">1994</text>
<text x="76.6" y="634.6" fill="#000">1995</text>
<text x="154.6" y="634.6" fill="#000">1996</text>
<text x="232.6" y="634.6" fill="#000">1997</text>
<text x="310.6" y="634.6" fill="#000">1998</text>
<text x="388.6" y="634.6" fill="#000">1999</text>
<text x="467.6" y="634.6" fill="#000">2000</text>
<text x="545.6" y="634.6" fill="#000">2001</text>
<text x="623.6" y="634.6" fill="#000">2002</text>
<text x="702.6" y="634.6" fill="#000">2003</text>
<text x="780.6" y="634.6" fill="#000">2004</text>
<text x="859.6" y="634.6" fill="#000">2005</text>
<text x="937.6" y="634.6" fill="#000">2006</text>
<text x="1015.6" y="634.6" fill="#000">2007</text>
<text x="1093.6" y="634.6" fill="#000">2008</text>
<text x="1171.6" y="634.6" fill="#000">2009</text>
<text x="462.8" y="10" fill="#000" textLength="290.6" lengthAdjust="spacingAndGlyphs">CRB INDEX FUTURE (416.4000, 421.7000, 414.4900, 416.0200, -0.3800)</text>
</svg></body></html>
